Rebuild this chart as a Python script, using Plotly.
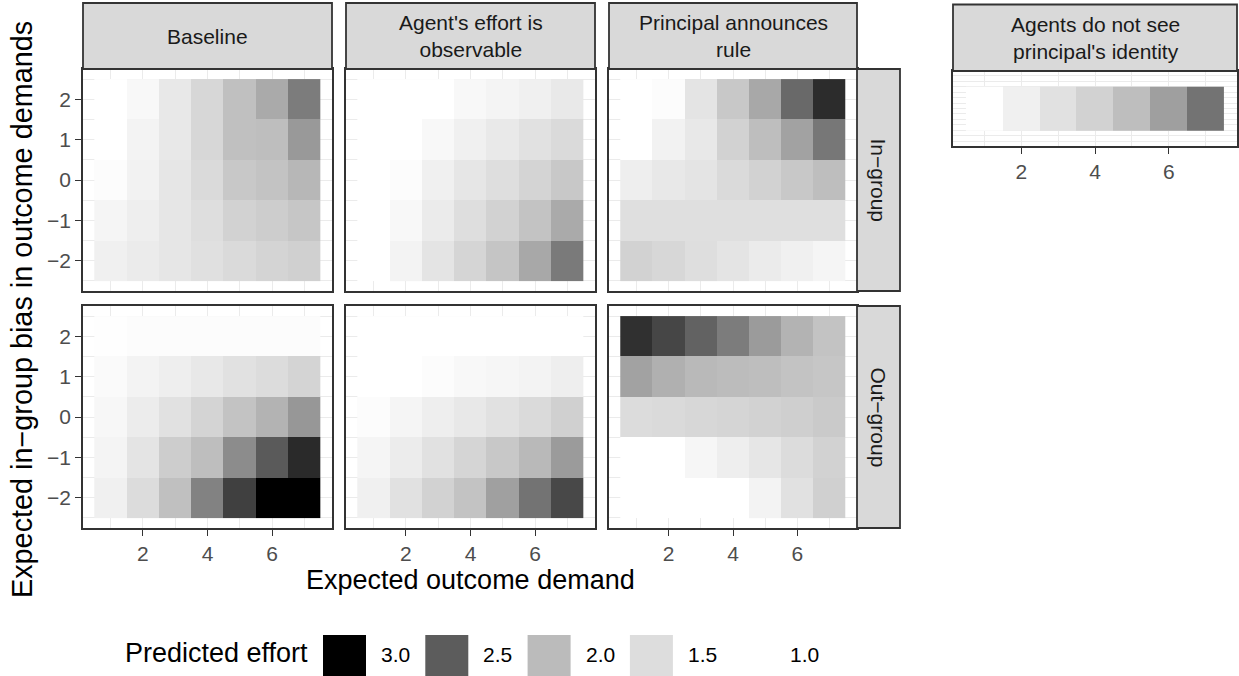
import plotly.graph_objects as go

W, H = 1239, 676

# ---------------- data ----------------
x_demand = [1, 2, 3, 4, 5, 6, 7]
y_bias = [-2, -1, 0, 1, 2]

# rows ordered y = -2, -1, 0, 1, 2 ; columns x = 1..7
baseline_in = [
    [1.22, 1.29, 1.37, 1.46, 1.54, 1.63, 1.69],
    [1.15, 1.25, 1.37, 1.49, 1.66, 1.74, 1.84],
    [1.04, 1.19, 1.37, 1.54, 1.81, 1.88, 2.02],
    [1.00, 1.18, 1.34, 1.59, 1.93, 1.96, 2.18],
    [1.00, 1.10, 1.34, 1.59, 1.93, 2.09, 2.33],
]
observable_in = [
    [1.00, 1.18, 1.40, 1.62, 1.85, 2.10, 2.34],
    [1.00, 1.10, 1.29, 1.49, 1.66, 1.88, 2.09],
    [1.00, 1.04, 1.22, 1.37, 1.49, 1.63, 1.81],
    [1.00, 1.00, 1.10, 1.22, 1.32, 1.44, 1.54],
    [1.00, 1.00, 1.00, 1.10, 1.16, 1.22, 1.32],
]
rule_in = [
    [1.66, 1.59, 1.49, 1.40, 1.29, 1.22, 1.15],
    [1.47, 1.47, 1.47, 1.47, 1.47, 1.47, 1.47],
    [1.25, 1.34, 1.40, 1.54, 1.66, 1.81, 1.96],
    [1.00, 1.19, 1.34, 1.66, 1.96, 2.13, 2.36],
    [1.00, 1.04, 1.40, 1.81, 2.10, 2.43, 2.76],
]
baseline_out = [
    [1.22, 1.51, 1.93, 2.30, 2.65, 3.05, 3.15],
    [1.16, 1.40, 1.74, 1.96, 2.25, 2.51, 2.77],
    [1.12, 1.28, 1.44, 1.63, 1.88, 2.04, 2.19],
    [1.07, 1.18, 1.25, 1.34, 1.44, 1.51, 1.63],
    [1.01, 1.04, 1.04, 1.04, 1.04, 1.04, 1.04],
]
observable_out = [
    [1.22, 1.44, 1.66, 1.88, 2.14, 2.38, 2.61],
    [1.15, 1.28, 1.44, 1.62, 1.81, 2.01, 2.17],
    [1.04, 1.15, 1.25, 1.34, 1.44, 1.54, 1.69],
    [1.00, 1.00, 1.04, 1.10, 1.13, 1.18, 1.25],
    [1.00, 1.00, 1.00, 1.00, 1.00, 1.00, 1.00],
]
rule_out = [
    [1.00, 1.00, 1.00, 1.00, 1.18, 1.44, 1.69],
    [1.00, 1.00, 1.13, 1.25, 1.37, 1.51, 1.66],
    [1.51, 1.54, 1.59, 1.62, 1.66, 1.71, 1.78],
    [2.13, 2.06, 2.01, 1.99, 1.96, 1.88, 1.84],
    [2.74, 2.62, 2.47, 2.33, 2.17, 2.04, 1.88],
]
no_identity = [
    [1.00, 1.22, 1.44, 1.66, 1.96, 2.15, 2.38],
]

col_labels = ["Baseline", "Agent's effort is<br>observable", "Principal announces<br>rule"]
row_labels = ["In\u2212group", "Out\u2212group"]
extra_label = "Agents do not see<br>principal's identity"
legend_title = "Predicted effort"
legend_values = [3.0, 2.5, 2.0, 1.5, 1.0]
legend_texts = ["3.0", "2.5", "2.0", "1.5", "1.0"]
x_title = "Expected outcome demand"
y_title = "Expected in\u2212group bias in outcome demands"

# colour scale (white -> black)
cmin, cmax = 1.0, 3.0
cstops = [(0.0, (255, 255, 255)), (0.25, (221, 221, 221)), (0.5, (187, 187, 187)),
          (0.75, (92, 92, 92)), (1.0, (0, 0, 0))]
colorscale = [[s, "rgb(%d,%d,%d)" % c] for s, c in cstops]


def scale_color(v):
    t = min(max((v - cmin) / (cmax - cmin), 0), 1)
    for (s0, c0), (s1, c1) in zip(cstops[:-1], cstops[1:]):
        if s0 <= t <= s1:
            f = (t - s0) / (s1 - s0) if s1 > s0 else 0
            c = [round(a + (b - a) * f) for a, b in zip(c0, c1)]
            return "rgb(%d,%d,%d)" % tuple(c)
    return "rgb(0,0,0)"


# ---------------- layout geometry ----------------
def fx(p):
    return p / W


def fy(p):
    return 1 - p / H


col_x = [(83, 332), (346, 595), (609, 857)]
row_y = [(69, 291), (306, 528)]
strip_top = 3
rstrip = (857, 900)
p4_x = (953, 1237)
p4_y = (71, 146)
p4_strip_top = 4.5

BORDER = "#333333"
GRID = "#ebebeb"
TICKC = "#4d4d4d"
FONT = "Liberation Sans, Arial, sans-serif"
TICKSIZE = 21
STRIPSIZE = 21
TITLESIZE = 27

fig = go.Figure()
layout = dict(
    width=W, height=H, margin=dict(l=0, r=0, t=0, b=0),
    paper_bgcolor="white", plot_bgcolor="white",
    font=dict(family=FONT, color="#000000"),
    showlegend=False,
    coloraxis=dict(colorscale=colorscale, cmin=cmin, cmax=cmax, showscale=False),
)
shapes = []
annotations = []

panels = [
    (0, 0, baseline_in), (0, 1, observable_in), (0, 2, rule_in),
    (1, 0, baseline_out), (1, 1, observable_out), (1, 2, rule_out),
]


def xaxis_def(x0, x1, y_anchor, show_labels):
    return dict(
        domain=[fx(x0), fx(x1)], anchor=y_anchor, range=[0.15, 7.85],
        tick0=0, dtick=2, showgrid=True, gridcolor=GRID, gridwidth=1.2,
        minor=dict(dtick=1, tick0=0, showgrid=True, gridcolor=GRID, gridwidth=0.6, ticks=""),
        zeroline=False, showline=True, mirror=True, linecolor=BORDER, linewidth=1.8,
        ticks="outside" if show_labels else "", ticklen=6, tickwidth=1.3, tickcolor=BORDER,
        showticklabels=show_labels, tickfont=dict(size=TICKSIZE, color=TICKC, family=FONT),
        fixedrange=True,
    )


def yaxis_def(y0, y1, x_anchor, show_labels, rng, dtick, minor_dtick):
    return dict(
        domain=[fy(y1), fy(y0)], anchor=x_anchor, range=rng,
        tick0=0, dtick=dtick, showgrid=True, gridcolor=GRID, gridwidth=1.2,
        minor=dict(dtick=minor_dtick, tick0=0, showgrid=True, gridcolor=GRID, gridwidth=0.6, ticks=""),
        zeroline=False, showline=True, mirror=True, linecolor=BORDER, linewidth=1.8,
        ticks="outside" if show_labels else "", ticklen=6, tickwidth=1.3, tickcolor=BORDER,
        showticklabels=show_labels, tickfont=dict(size=TICKSIZE, color=TICKC, family=FONT),
        fixedrange=True,
    )


idx = 0
for r, c, z in panels:
    idx += 1
    sfx = "" if idx == 1 else str(idx)
    x0, x1 = col_x[c]
    y0, y1 = row_y[r]
    layout["xaxis" + sfx] = xaxis_def(x0, x1, "y" + sfx, r == 1)
    layout["yaxis" + sfx] = yaxis_def(y0, y1, "x" + sfx, c == 0, [-2.75, 2.75], 1, 0.5)
    fig.add_trace(go.Heatmap(x=x_demand, y=y_bias, z=z, coloraxis="coloraxis",
                             xaxis="x" + sfx, yaxis="y" + sfx, hoverinfo="skip"))

# extra panel (single row)
idx += 1
sfx = str(idx)
layout["xaxis" + sfx] = xaxis_def(p4_x[0], p4_x[1], "y" + sfx, True)
layout["yaxis" + sfx] = yaxis_def(p4_y[0], p4_y[1], "x" + sfx, False, [-0.862, 0.862], 0.25, 0.125)
fig.add_trace(go.Heatmap(x=x_demand, y=[0], z=no_identity, coloraxis="coloraxis",
                         xaxis="x" + sfx, yaxis="y" + sfx, hoverinfo="skip"))

# ---------------- strips ----------------
def strip(x0, x1, y0, y1, text, angle=0):
    shapes.append(dict(type="rect", xref="paper", yref="paper",
                       x0=fx(x0), x1=fx(x1), y0=fy(y1), y1=fy(y0),
                       fillcolor="#d9d9d9", line=dict(color=BORDER, width=1.8), layer="above"))
    annotations.append(dict(xref="paper", yref="paper", x=fx((x0 + x1) / 2), y=fy((y0 + y1) / 2),
                            text=text, showarrow=False, textangle=angle,
                            xanchor="center", yanchor="middle",
                            font=dict(size=STRIPSIZE, color="#1a1a1a", family=FONT)))


for c, lab in enumerate(col_labels):
    strip(col_x[c][0], col_x[c][1], strip_top, row_y[0][0], lab)
for r, lab in enumerate(row_labels):
    strip(rstrip[0], rstrip[1], row_y[r][0], row_y[r][1], lab, angle=90)
strip(p4_x[0], p4_x[1], p4_strip_top, p4_y[0], extra_label)

# ---------------- axis titles ----------------
annotations.append(dict(xref="paper", yref="paper", x=fx((col_x[0][0] + col_x[2][1]) / 2), y=fy(580),
                        text=x_title, showarrow=False, xanchor="center", yanchor="middle",
                        font=dict(size=TITLESIZE, color="#000000", family=FONT)))
annotations.append(dict(xref="paper", yref="paper", x=fx(22), y=fy(310),
                        text=y_title, showarrow=False, textangle=-90, xanchor="center", yanchor="middle",
                        font=dict(size=28.8, color="#000000", family=FONT)))

# ---------------- legend ----------------
annotations.append(dict(xref="paper", yref="paper", x=fx(123), y=fy(653),
                        text=legend_title, showarrow=False, xanchor="left", yanchor="middle",
                        font=dict(size=TITLESIZE, color="#000000", family=FONT)))
key_left, key_step, key_w, key_top = 323, 102.3, 43, 635
for k, (v, t) in enumerate(zip(legend_values, legend_texts)):
    kx = key_left + k * key_step
    shapes.append(dict(type="rect", xref="paper", yref="paper",
                       x0=fx(kx), x1=fx(kx + key_w), y0=fy(key_top + key_w), y1=fy(key_top),
                       fillcolor=scale_color(v), line=dict(width=0)))
    annotations.append(dict(xref="paper", yref="paper", x=fx(kx + 56), y=fy(654),
                            text=t, showarrow=False, xanchor="left", yanchor="middle",
                            font=dict(size=TICKSIZE, color="#000000", family=FONT)))

layout["shapes"] = shapes
layout["annotations"] = annotations
fig.update_layout(**layout)
fig.write_html("out.html")
